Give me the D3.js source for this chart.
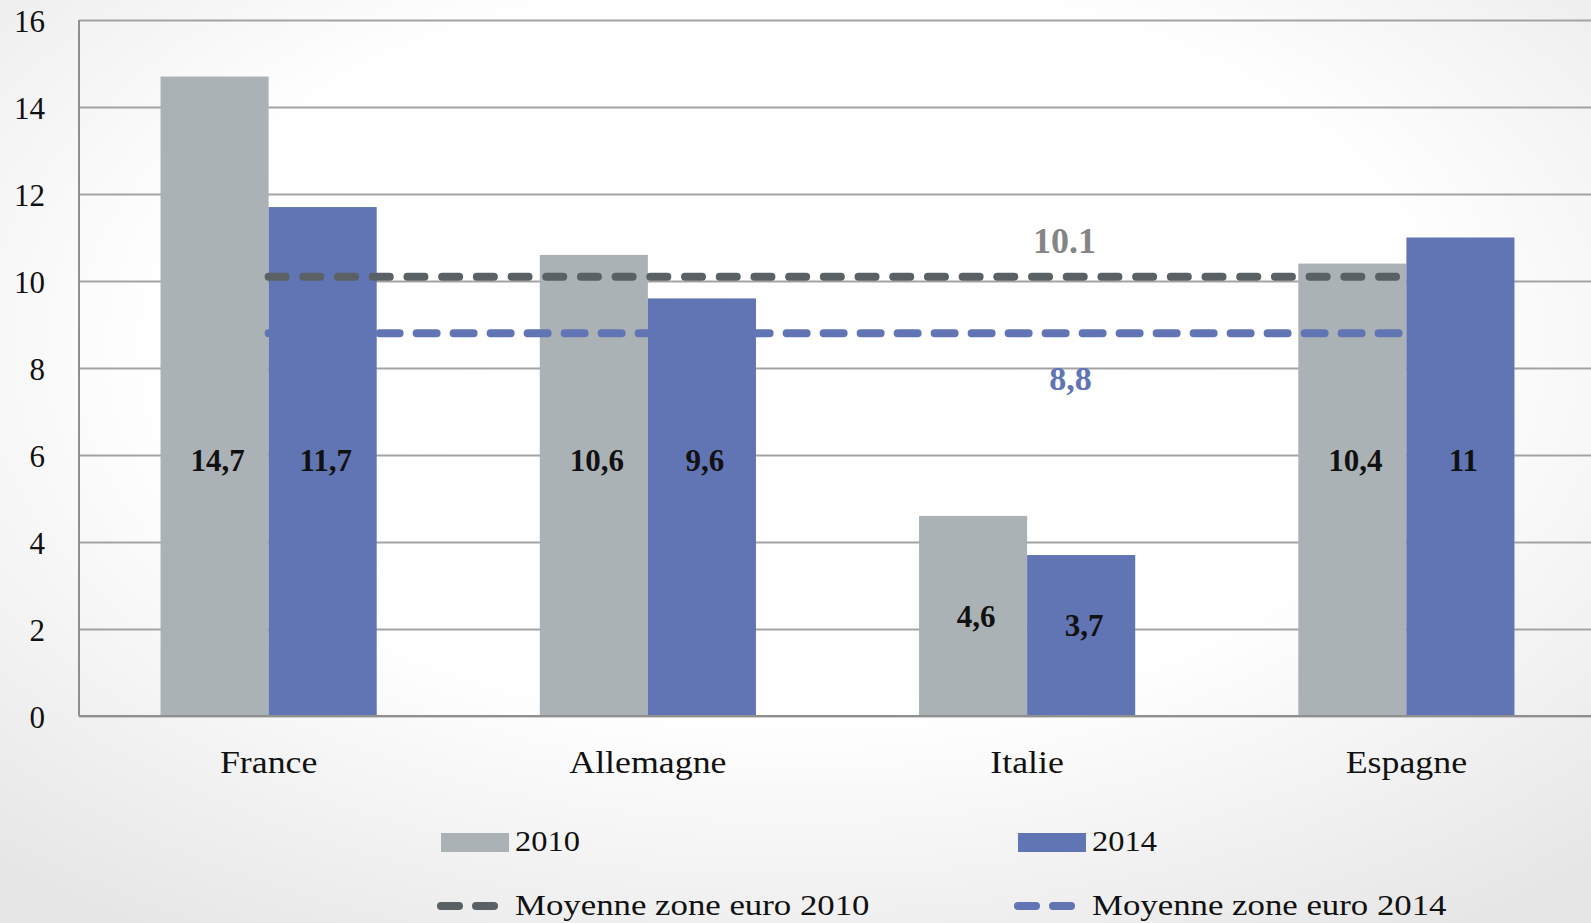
<!DOCTYPE html>
<html><head><meta charset="utf-8">
<script src="https://cdn.jsdelivr.net/npm/d3@7"></script>
<style>html,body{margin:0;padding:0;overflow:hidden;}svg{display:block;}</style>
</head><body>
<svg id="c" width="1591" height="923"></svg>
<script>
const categories = ["France", "Allemagne", "Italie", "Espagne"];
const seriesNames = ["2010", "2014"];
const values2010 = [14.7, 10.6, 4.6, 10.4];
const values2014 = [11.7, 9.6, 3.7, 11];
const labels2010 = ["14,7", "10,6", "4,6", "10,4"];
const labels2014 = ["11,7", "9,6", "3,7", "11"];
const averages = [10.1, 8.8];
const averageLabels = ["10.1", "8,8"];
const averageNames = ["Moyenne zone euro 2010", "Moyenne zone euro 2014"];
const yTicks = [0, 2, 4, 6, 8, 10, 12, 14, 16];

const W = 1591, H = 923;
const m = {left: 79, right: -5, top: 20, bottom: 207};
const colors = ["#abb2b5", "#6175b4"];
const lineColors = ["#5a6165", "#6175b4"];
const font = "'Liberation Serif', 'Times New Roman', serif";

const svg = d3.select("#c");
const defs = svg.append("defs");
const rg = defs.append("radialGradient").attr("id","bg")
  .attr("cx","50%").attr("cy","38%").attr("r","75%");
rg.append("stop").attr("offset","0%").attr("stop-color","#ffffff");
rg.append("stop").attr("offset","55%").attr("stop-color","#fefefe");
rg.append("stop").attr("offset","100%").attr("stop-color","#e6e6e6");
svg.append("rect").attr("width",W).attr("height",H).attr("fill","url(#bg)");

const y = d3.scaleLinear().domain([0,16]).range([H - m.bottom, m.top]);
const x0 = d3.scaleBand().domain(categories).range([m.left, W - m.right]).paddingInner(0.43).paddingOuter(0.215);
const x1 = d3.scaleBand().domain(seriesNames).range([0, x0.bandwidth()]);

// gridlines
const yAxis = d3.axisLeft(y).tickValues(yTicks).tickSize(-(W - m.right - m.left)).tickFormat(d3.format("d"));
const gy = svg.append("g").attr("transform",`translate(${m.left},0)`).call(yAxis);
gy.select(".domain").remove();
gy.selectAll(".tick line").attr("stroke","#a3a3a3").attr("stroke-width",2);
gy.selectAll(".tick text").attr("x",-34).attr("font-family",font).attr("font-size",31).attr("fill","#111").attr("dy","0.36em");
svg.append("line").attr("x1",m.left).attr("x2",m.left).attr("y1",y(16)).attr("y2",y(0)).attr("stroke","#8f8f8f").attr("stroke-width",2);

// bars
const data = categories.map((c,i)=>({c, vals:[values2010[i], values2014[i]], labs:[labels2010[i], labels2014[i]]}));
const groups = svg.append("g").selectAll("g").data(data).join("g").attr("transform", d=>`translate(${x0(d.c)},0)`);
groups.selectAll("rect").data(d=>d.vals.map((v,k)=>({v,k,s:seriesNames[k]}))).join("rect")
  .attr("x", d=>x1(d.s)).attr("width", x1.bandwidth()).attr("y", d=>y(d.v)).attr("height", d=>y(0)-y(d.v))
  .attr("fill", d=>colors[d.k]);

svg.append("line").attr("x1",m.left).attr("x2",W).attr("y1",y(0)).attr("y2",y(0)).attr("stroke","#8f8f8f").attr("stroke-width",2);

// average dashed lines
const xa = x0(categories[0]) + x0.bandwidth()/2;
const xb = x0(categories[categories.length-1]) + x0.bandwidth()/2;
const dashes = ["17 17.7", "20 17"];
averages.forEach((a,k)=>{
  svg.append("line").attr("x1",xa).attr("x2",xb).attr("y1",y(a)).attr("y2",y(a))
    .attr("stroke",lineColors[k]).attr("stroke-width",8).attr("stroke-linecap","round").attr("stroke-dasharray",dashes[k]);
});
const midX = (xa + xb)/2 + 230;
svg.append("text").attr("x", midX - 3).attr("y", y(averages[0]) - 24).attr("text-anchor","middle")
  .attr("font-family",font).attr("font-weight","bold").attr("font-size",36).attr("fill","#858585").text(averageLabels[0]);
svg.append("text").attr("x", midX + 3).attr("y", y(averages[1]) + 57).attr("text-anchor","middle")
  .attr("font-family",font).attr("font-weight","bold").attr("font-size",34).attr("fill",lineColors[1]).text(averageLabels[1]);

// bar value labels
groups.selectAll("text.val").data(d=>d.vals.map((v,k)=>({v,k,s:seriesNames[k],l:d.labs[k]}))).join("text")
  .attr("class","val")
  .attr("x", d=>x1(d.s) + x1.bandwidth()/2 + 3)
  .attr("y", d=>y(d.v >= 8 ? 5.88 : Math.max(2.1, d.v/2)))
  .attr("dy","0.35em").attr("text-anchor","middle")
  .attr("font-family",font).attr("font-weight","bold").attr("font-size",31).attr("fill","#111").text(d=>d.l);

// category labels
svg.append("g").selectAll("text").data(categories).join("text")
  .attr("transform", d=>`translate(${x0(d)+x0.bandwidth()/2},${y(0)+57}) scale(1.12,1)`)
  .attr("text-anchor","middle")
  .attr("font-family",font).attr("font-size",32).attr("fill","#111").text(d=>d);

// legend
const legX = [441, 1018];
const leg = svg.append("g");
seriesNames.forEach((s,k)=>{
  leg.append("rect").attr("x",legX[k]).attr("y",833).attr("width",68).attr("height",19).attr("fill",colors[k]);
  leg.append("text").attr("transform",`translate(${legX[k]+74},851) scale(1.12,1)`).attr("font-family",font).attr("font-size",29).attr("fill","#111").text(s);
  leg.append("line").attr("x1",legX[k]).attr("x2",legX[k]+57).attr("y1",906).attr("y2",906)
    .attr("stroke",lineColors[k]).attr("stroke-width",8).attr("stroke-linecap","round").attr("stroke-dasharray","18 17");
  leg.append("text").attr("transform",`translate(${legX[k]+74},915) scale(1.2,1)`).attr("font-family",font).attr("font-size",29).attr("fill","#111").text(averageNames[k]);
});
</script>
</body></html>
